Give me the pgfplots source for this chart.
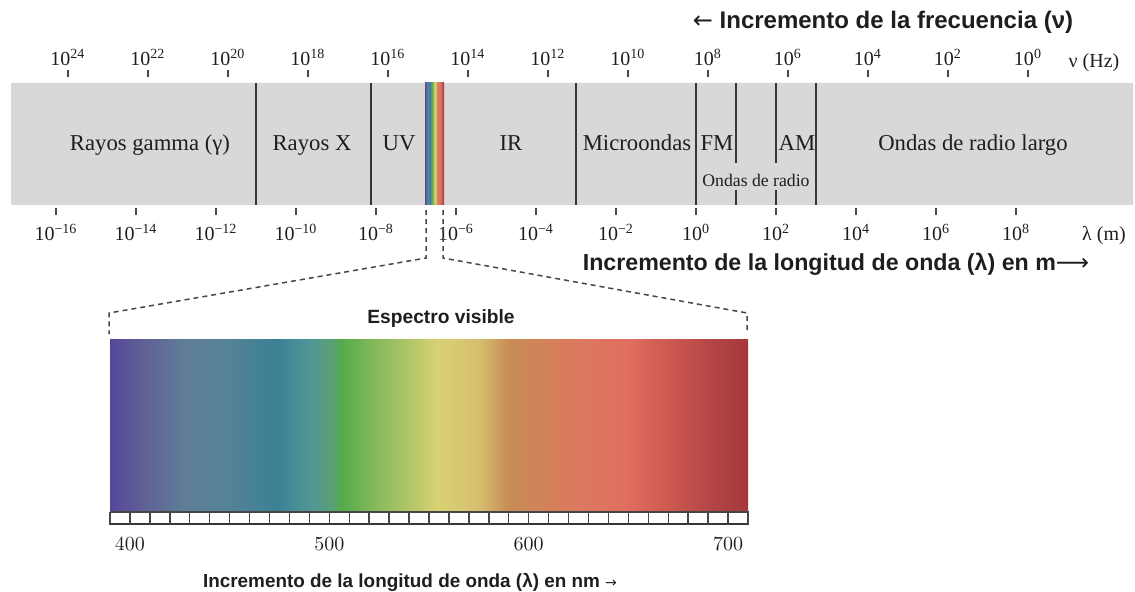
\documentclass[border=0pt]{standalone}
\usepackage{pgfplots}
\pgfplotsset{compat=1.18}
\usepackage{fontspec}
\setmainfont{Liberation Serif}
\newfontfamily\hsans{Liberation Sans}
\newfontfamily\djv{DejaVu Sans}

\definecolor{bandgray}{RGB}{216,216,216}
\definecolor{linegray}{RGB}{55,55,55}
\definecolor{tickgray}{RGB}{70,70,70}
\definecolor{txt}{RGB}{30,30,30}
\definecolor{v01}{RGB}{85,71,154}
\definecolor{v02}{RGB}{95,95,150}
\definecolor{v03}{RGB}{95,125,150}
\definecolor{v04}{RGB}{85,130,150}
\definecolor{v05}{RGB}{60,128,150}
\definecolor{v06}{RGB}{80,150,150}
\definecolor{v07}{RGB}{90,160,120}
\definecolor{v08}{RGB}{85,170,75}
\definecolor{v09}{RGB}{130,185,90}
\definecolor{v10}{RGB}{185,200,105}
\definecolor{v11}{RGB}{215,210,115}
\definecolor{v12}{RGB}{215,190,110}
\definecolor{v13}{RGB}{200,140,85}
\definecolor{v14}{RGB}{210,130,90}
\definecolor{v15}{RGB}{220,120,95}
\definecolor{v16}{RGB}{225,110,95}
\definecolor{v17}{RGB}{205,90,80}
\definecolor{v18}{RGB}{180,70,70}
\definecolor{v19}{RGB}{165,55,60}
% 390 nm -> 25bp, 710 nm -> 75bp
\pgfdeclarehorizontalshading{visspec}{100bp}{color(0bp)=(v01); color(25bp)=(v01); color(27.5bp)=(v02); color(30.78bp)=(v03); color(34.06bp)=(v04); color(38.13bp)=(v05); color(40.63bp)=(v06); color(42.34bp)=(v07); color(43.13bp)=(v08); color(45.63bp)=(v09); color(48.91bp)=(v10); color(50.63bp)=(v11); color(53.91bp)=(v12); color(56.25bp)=(v13); color(58.91bp)=(v14); color(62.19bp)=(v15); color(65.47bp)=(v16); color(68.75bp)=(v17); color(72.03bp)=(v18); color(75bp)=(v19); color(100bp)=(v19)}

\begin{document}
\begin{tikzpicture}
\useasboundingbox (0,0) rectangle (567.5pt,-296pt);

% ---------- main band, wavelength axis (log10 of lambda in m) ----------
\begin{axis}[
  at={(5.5pt,-38.5pt)}, anchor=north west, scale only axis,
  width=561pt, height=65.5pt,
  xmin=-17.125, xmax=10.925, ymin=77, ymax=208, y dir=reverse,
  axis line style={draw=none},
  xtick={-16,-14,...,8},
  xticklabels={10\textsuperscript{−16},10\textsuperscript{−14},10\textsuperscript{−12},10\textsuperscript{−10},10\textsuperscript{−8},10\textsuperscript{−6},10\textsuperscript{−4},10\textsuperscript{−2},10\textsuperscript{0},10\textsuperscript{2},10\textsuperscript{4},10\textsuperscript{6},10\textsuperscript{8}},
  xtick pos=left, ytick=\empty,
  tick align=outside, major tick length=3.5pt,
  every tick/.style={draw=tickgray, line width=0.75pt},
  xticklabel style={font=\fontsize{10}{12}\selectfont, text=txt, yshift=-1pt},
  clip=false,
]
\addplot[fill=bandgray, draw=none] coordinates {(-17.125,83)(10.925,83)(10.925,205)(-17.125,205)(-17.125,83)};
\addplot[shade, shading=visspec, draw=none] coordinates {(-6.775,83)(-6.3,83)(-6.3,205)(-6.775,205)(-6.775,83)};
\addplot[linegray, line width=1pt] coordinates {(-11,83)(-11,205)};
\addplot[linegray, line width=1pt] coordinates {(-8.125,83)(-8.125,205)};
\addplot[linegray, line width=1pt] coordinates {(-3,83)(-3,205)};
\addplot[linegray, line width=1pt] coordinates {(0,83)(0,205)};
\addplot[linegray, line width=1pt] coordinates {(1,83)(1,163)};
\addplot[linegray, line width=1pt] coordinates {(1,190)(1,205)};
\addplot[linegray, line width=1pt] coordinates {(2,83)(2,163)};
\addplot[linegray, line width=1pt] coordinates {(2,190)(2,205)};
\addplot[linegray, line width=1pt] coordinates {(3,83)(3,205)};
\end{axis}

% ---------- frequency axis on top (log10 of nu in Hz) ----------
\begin{axis}[
  at={(5.5pt,-38.5pt)}, anchor=north west, scale only axis,
  width=561pt, height=65.5pt,
  xmin=-2.625, xmax=25.425, x dir=reverse, ymin=0, ymax=1,
  axis line style={draw=none},
  xtick={0,2,...,24},
  xticklabels={10\textsuperscript{0},10\textsuperscript{2},10\textsuperscript{4},10\textsuperscript{6},10\textsuperscript{8},10\textsuperscript{10},10\textsuperscript{12},10\textsuperscript{14},10\textsuperscript{16},10\textsuperscript{18},10\textsuperscript{20},10\textsuperscript{22},10\textsuperscript{24}},
  xtick pos=right, xticklabel pos=right, ytick=\empty,
  tick align=outside, major tick length=3.5pt,
  every tick/.style={draw=tickgray, line width=0.75pt},
  xticklabel style={font=\fontsize{10}{12}\selectfont, text=txt, yshift=-1.5pt},
  clip=false,
]
\addplot[draw=none] coordinates {(0,0.5)};
\end{axis}

% ---------- visible spectrum (nm) ----------
\begin{axis}[
  at={(55pt,-169pt)}, anchor=north west, scale only axis,
  width=319pt, height=93.5pt,
  xmin=390, xmax=710, ymin=338, ymax=525, y dir=reverse,
  axis line style={draw=none},
  xtick={400,500,600,700}, xtick pos=left, ytick=\empty,
  major tick length=0pt,
  xticklabel style={font=\fontsize{10}{12}\selectfont, text=txt, yshift=-3pt},
  clip=false,
]
\addplot[shade, shading=visspec, draw=none] coordinates {(390,340)(710,340)(710,512)(390,512)(390,340)};
\addplot[fill=white, draw=tickgray, line width=0.6pt] coordinates {(390,512)(710,512)(710,524)(390,524)(390,512)};
\addplot[only marks, mark=|, mark size=3pt, mark options={draw=tickgray, line width=0.7pt}] coordinates {
(390,518)(400,518)(410,518)(420,518)(430,518)(440,518)(450,518)(460,518)(470,518)(480,518)
(490,518)(500,518)(510,518)(520,518)(530,518)(540,518)(550,518)(560,518)(570,518)(580,518)
(590,518)(600,518)(610,518)(620,518)(630,518)(640,518)(650,518)(660,518)(670,518)(680,518)
(690,518)(700,518)(710,518)};
\addplot[draw=linegray, line width=1pt] coordinates {(390,524)(710,524)};
\end{axis}

% ---------- overlay: connectors and texts (pixel frame) ----------
\begin{axis}[
  at={(0pt,0pt)}, anchor=north west, scale only axis,
  width=567.5pt, height=296pt,
  xmin=0, xmax=1135, ymin=0, ymax=592, y dir=reverse,
  hide axis, clip=false,
]
\addplot[tickgray, line width=0.75pt, dash pattern=on 2.5pt off 2pt] coordinates {(426,210)(426,258)(109,313)(109,334)};
\addplot[tickgray, line width=0.75pt, dash pattern=on 2.5pt off 2pt] coordinates {(443,210)(443,258)(747,313)(747,334)};

\node[anchor=base, text=txt, font=\hsans\bfseries\fontsize{12}{14}\selectfont] at (axis cs:883,28) {{\djv\mdseries ←} Incremento de la frecuencia (ν)};
\node[anchor=base, text=txt, font=\fontsize{10}{12}\selectfont] at (axis cs:1094,67) {ν (Hz)};
\node[anchor=base, text=txt, font=\fontsize{10}{12}\selectfont] at (axis cs:1104,240) {λ (m)};
\node[anchor=base, text=txt, font=\hsans\bfseries\fontsize{11.6}{14}\selectfont] at (axis cs:836,270) {Incremento de la longitud de onda (λ) en m{\djv\mdseries ⟶}};

\node[anchor=base, text=txt, font=\fontsize{11.35}{13}\selectfont] at (axis cs:150,150) {Rayos gamma (γ)};
\node[anchor=base, text=txt, font=\fontsize{11.35}{13}\selectfont] at (axis cs:312,150) {Rayos X};
\node[anchor=base, text=txt, font=\fontsize{11.35}{13}\selectfont] at (axis cs:399,150) {UV};
\node[anchor=base, text=txt, font=\fontsize{11.35}{13}\selectfont] at (axis cs:511,150) {IR};
\node[anchor=base, text=txt, font=\fontsize{11.35}{13}\selectfont] at (axis cs:637,150) {Microondas};
\node[anchor=base, text=txt, font=\fontsize{11.35}{13}\selectfont] at (axis cs:717,150) {FM};
\node[anchor=base, text=txt, font=\fontsize{11.35}{13}\selectfont] at (axis cs:797,150) {AM};
\node[anchor=base, text=txt, font=\fontsize{11.35}{13}\selectfont] at (axis cs:973,150) {Ondas de radio largo};
\node[anchor=base, text=txt, font=\fontsize{8.85}{10}\selectfont] at (axis cs:756,186) {Ondas de radio};

\node[anchor=base, text=txt, font=\hsans\bfseries\fontsize{9.6}{11}\selectfont] at (axis cs:441,323) {Espectro visible};
\node[anchor=base, text=txt, font=\hsans\bfseries\fontsize{9.45}{11}\selectfont] at (axis cs:410,587) {Incremento de la longitud de onda (λ) en nm {\djv\mdseries\fontsize{7}{8}\selectfont →}};
\end{axis}
\end{tikzpicture}
\end{document}
